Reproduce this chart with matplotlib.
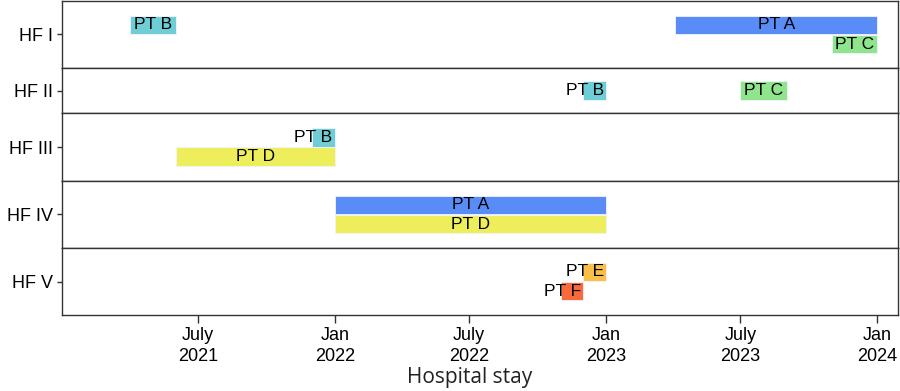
import numpy as np
import matplotlib
matplotlib.use("Agg")
import matplotlib.pyplot as plt
import matplotlib.dates as mdates

facilities = ['HF I', 'HF II', 'HF III', 'HF IV', 'HF V']
lanes = [2, 1, 2, 2, 2]

bar_hf = ['HF I', 'HF I', 'HF I', 'HF II', 'HF II', 'HF III', 'HF III',
          'HF IV', 'HF IV', 'HF V', 'HF V']
bar_pt = ['B', 'A', 'C', 'B', 'C', 'B', 'D', 'A', 'D', 'E', 'F']
bar_row = [0, 0, 1, 0, 0, 0, 1, 0, 1, 0, 1]
bar_start = ['2021-04-01', '2023-04-04', '2023-11-01', '2022-12-01', '2023-07-01',
             '2021-12-01', '2021-06-01', '2022-01-01', '2022-01-01', '2022-12-01',
             '2022-11-01']
bar_end = ['2021-05-31', '2023-12-31', '2023-12-31', '2022-12-31', '2023-08-31',
           '2021-12-31', '2021-12-31', '2022-12-31', '2022-12-31', '2022-12-31',
           '2022-11-30']

pt_colors = {'A': '#5a8cf8', 'B': '#6ecdd5', 'C': '#8fe58b', 'D': '#eeee5c',
             'E': '#f9bf48', 'F': '#f86a3c'}

tick_dates = ['2021-07-01', '2022-01-01', '2022-07-01', '2023-01-01',
              '2023-07-01', '2024-01-01']
tick_labels = ['July\n2021', 'Jan\n2022', 'July\n2022', 'Jan\n2023',
               'July\n2023', 'Jan\n2024']

plt.rcParams['font.family'] = ['Liberation Sans', 'DejaVu Sans']


def num(s):
    return mdates.date2num(np.datetime64(s))


fig = plt.figure(figsize=(9, 3.91), dpi=100)
gs = fig.add_gridspec(5, 1, height_ratios=[67, 45, 68, 67, 67], hspace=0,
                      left=62/900, right=898/900, top=1-1/391, bottom=1-315/391)

unit = 19.2  # pixels per lane
heights = [67, 45, 68, 67, 67]
for i, hf in enumerate(facilities):
    ax = fig.add_subplot(gs[i])
    n = lanes[i]
    c = (n - 1) / 2
    half = heights[i] / unit / 2
    ax.set_ylim(c + half, c - half)
    ax.set_yticks([c])
    ax.set_yticklabels([hf], fontsize=13)
    for sp in ax.spines.values():
        sp.set_color('#333333')
        sp.set_linewidth(1.0)
    ax.tick_params(axis='y', length=3.6, width=1, color='#333333', pad=3)
    for k in range(len(bar_hf)):
        if bar_hf[k] != hf:
            continue
        s = num(bar_start[k])
        e = num(bar_end[k]) + 1
        ax.barh(bar_row[k], e - s, left=s, height=0.95,
                color=pt_colors[bar_pt[k]], edgecolor='#f0f4ff', linewidth=0.6)
        if e - s < 45:
            ax.text(e - 3, bar_row[k], 'PT ' + bar_pt[k], ha='right', va='center',
                    fontsize=12.5, color='black')
        else:
            ax.text((s + e) / 2, bar_row[k], 'PT ' + bar_pt[k], ha='center',
                    va='center', fontsize=12.5, color='black')
    ax.set_xlim(num('2020-12-30'), num('2024-01-29'))
    ax.set_xticks([num(t) for t in tick_dates])
    if i < len(facilities) - 1:
        ax.tick_params(axis='x', length=0, labelbottom=False)
    else:
        ax.set_xticklabels(tick_labels, fontsize=13, linespacing=1.3)
        ax.tick_params(axis='x', length=6, width=1, color='#333333', pad=2.5)

fig.text(470/900, 1 - 378/391, 'Hospital stay', ha='center', va='center',
         fontsize=15, family=['Open Sans', 'DejaVu Sans'], color='#222222')

fig.savefig('out.png', dpi=100)
